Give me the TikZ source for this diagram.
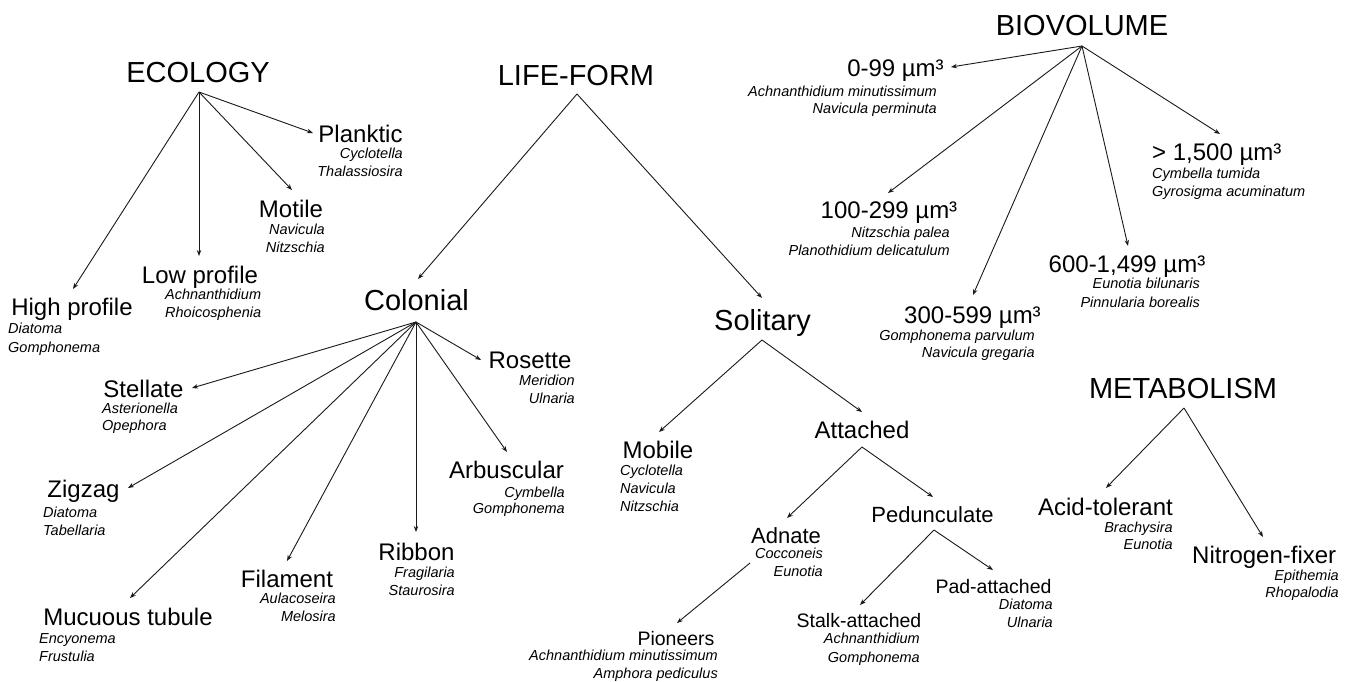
\documentclass[tikz,border=0pt]{standalone}
\usepackage{fontspec}
\setmainfont{Liberation Sans}
\usetikzlibrary{arrows.meta}
\begin{document}
\begin{tikzpicture}[x=1pt,y=-1pt,
  title/.style={font=\fontsize{29}{29}\selectfont, inner sep=0pt, anchor=base},
  big/.style={font=\fontsize{29}{29}\selectfont, inner sep=0pt, anchor=base},
  cat/.style={font=\fontsize{24}{24}\selectfont, inner sep=0pt, anchor=base},
  mid/.style={font=\fontsize{22}{22}\selectfont, inner sep=0pt, anchor=base},
  sml/.style={font=\fontsize{19.5}{19.5}\selectfont, inner sep=0pt, anchor=base},
  spL/.style={font=\fontsize{14.5}{14.5}\selectfont\itshape, inner sep=0pt, anchor=base west},
  spR/.style={font=\fontsize{14.5}{14.5}\selectfont\itshape, inner sep=0pt, anchor=base east},
  arr/.style={-{Stealth[length=6pt,width=4.5pt]}, line width=0.9pt, draw=black!90}
]
\useasboundingbox (0,0) rectangle (1350,681);

% ===== ECOLOGY =====
\node[title] (ecology) at (198,82) {ECOLOGY};
\coordinate (eco-a) at (199,92);
\node[cat] (planktic) at (360.5,142) {Planktic};
\node[spR] (planktic1) at (403,158) {Cyclotella};
\node[spR] (planktic2) at (403,176) {Thalassiosira};
\node[cat] (motile) at (291,217) {Motile};
\node[spR] (motile1) at (325,234) {Navicula};
\node[spR] (motile2) at (325,252) {Nitzschia};
\node[cat] (lowp) at (200,283) {Low profile};
\node[spL] (lowp1) at (165,299) {Achnanthidium};
\node[spL] (lowp2) at (165,317) {Rhoicosphenia};
\node[cat] (highp) at (72,315) {High profile};
\node[spL] (highp1) at (8,333) {Diatoma};
\node[spL] (highp2) at (8,352) {Gomphonema};
\coordinate (planktic-t) at (313,133);
\coordinate (motile-t) at (292,190);
\coordinate (lowp-t) at (199,256);
\coordinate (highp-t) at (73,289);
\draw[arr] (eco-a) -- (planktic-t);
\draw[arr] (eco-a) -- (motile-t);
\draw[arr] (eco-a) -- (lowp-t);
\draw[arr] (eco-a) -- (highp-t);

% ===== LIFE-FORM =====
\node[title] (lifeform) at (576,85) {LIFE-FORM};
\coordinate (lf-a) at (577,94);
\node[big] (colonial) at (416.5,310) {Colonial};
\node[big] (solitary) at (762.5,330) {Solitary};
\coordinate (colonial-t) at (418,279);
\coordinate (solitary-t) at (762,298);
\draw[arr] (lf-a) -- (colonial-t);
\draw[arr] (lf-a) -- (solitary-t);

% Colonial children
\coordinate (col-a) at (416,322);
\node[cat] (stellate) at (143.5,397) {Stellate};
\node[spL] (stellate1) at (102,413) {Asterionella};
\node[spL] (stellate2) at (102,430) {Opephora};
\node[cat] (zigzag) at (83.5,497) {Zigzag};
\node[spL] (zigzag1) at (43,517) {Diatoma};
\node[spL] (zigzag2) at (43,535) {Tabellaria};
\node[cat] (mucuous) at (128,625) {Mucuous tubule};
\node[spL] (mucuous1) at (39,643) {Encyonema};
\node[spL] (mucuous2) at (39,661) {Frustulia};
\node[cat] (filament) at (287,587) {Filament};
\node[spR] (filament1) at (336,603) {Aulacoseira};
\node[spR] (filament2) at (336,621) {Melosira};
\node[cat] (ribbon) at (416.5,560) {Ribbon};
\node[spR] (ribbon1) at (455,577) {Fragilaria};
\node[spR] (ribbon2) at (455,595) {Staurosira};
\node[cat] (arbus) at (506.5,478) {Arbuscular};
\node[spR] (arbus1) at (565,497) {Cymbella};
\node[spR] (arbus2) at (565,513) {Gomphonema};
\node[cat] (rosette) at (530,368) {Rosette};
\node[spR] (rosette1) at (575,385) {Meridion};
\node[spR] (rosette2) at (575,403) {Ulnaria};
\coordinate (stellate-t) at (192,388);
\coordinate (zigzag-t) at (128,488);
\coordinate (mucuous-t) at (130,598);
\coordinate (filament-t) at (287,561);
\coordinate (ribbon-t) at (416,532);
\coordinate (arbus-t) at (507,452);
\coordinate (rosette-t) at (481,360);
\foreach \c in {stellate,zigzag,mucuous,filament,ribbon,arbus,rosette}
  \draw[arr] (col-a) -- (\c-t);

% Solitary children
\coordinate (sol-a) at (762,340);
\node[cat] (mobile) at (658,458) {Mobile};
\node[spL] (mobile1) at (620,475) {Cyclotella};
\node[spL] (mobile2) at (620,493) {Navicula};
\node[spL] (mobile3) at (620,511) {Nitzschia};
\node[cat] (attached) at (862,438) {Attached};
\coordinate (mobile-t) at (659,432);
\coordinate (attached-t) at (862,412);
\draw[arr] (sol-a) -- (mobile-t);
\draw[arr] (sol-a) -- (attached-t);

\coordinate (att-a) at (862,447);
\node[mid] (adnate) at (786,543) {Adnate};
\node[spR] (adnate1) at (823,558) {Cocconeis};
\node[spR] (adnate2) at (823,576) {Eunotia};
\node[mid] (pedun) at (932.5,522) {Pedunculate};
\coordinate (adnate-t) at (787,518);
\coordinate (pedun-t) at (933,497);
\draw[arr] (att-a) -- (adnate-t);
\draw[arr] (att-a) -- (pedun-t);

\coordinate (adn-a) at (750,563);
\node[sml] (pioneers) at (676,645) {Pioneers};
\node[spR] (pioneers1) at (718,660) {Achnanthidium minutissimum};
\node[spR] (pioneers2) at (718,678) {Amphora pediculus};
\coordinate (pioneers-t) at (677,623);
\draw[arr] (adn-a) -- (pioneers-t);

\coordinate (ped-a) at (934,530);
\node[sml] (stalk) at (859,627) {Stalk-attached};
\node[spR] (stalk1) at (920,643) {Achnanthidium};
\node[spR] (stalk2) at (920,662) {Gomphonema};
\node[sml] (pad) at (993.5,593) {Pad-attached};
\node[spR] (pad1) at (1053,609) {Diatoma};
\node[spR] (pad2) at (1053,627) {Ulnaria};
\coordinate (stalk-t) at (860,605);
\coordinate (pad-t) at (993,570);
\draw[arr] (ped-a) -- (stalk-t);
\draw[arr] (ped-a) -- (pad-t);

% ===== BIOVOLUME =====
\node[title] (biovol) at (1082,35) {BIOVOLUME};
\coordinate (bio-a) at (1082,46);
\node[cat] (bv1) at (895.5,76) {0-99 µm³};
\node[spR] (bv1a) at (937,96) {Achnanthidium minutissimum};
\node[spR] (bv1b) at (937,113) {Navicula perminuta};
\node[cat] (bv2) at (889,218) {100-299 µm³};
\node[spR] (bv2a) at (950,237) {Nitzschia palea};
\node[spR] (bv2b) at (950,255) {Planothidium delicatulum};
\node[cat] (bv3) at (972.5,323) {300-599 µm³};
\node[spR] (bv3a) at (1035,340) {Gomphonema parvulum};
\node[spR] (bv3b) at (1035,357) {Navicula gregaria};
\node[cat] (bv4) at (1127,272) {600-1,499 µm³};
\node[spR] (bv4a) at (1200,288) {Eunotia bilunaris};
\node[spR] (bv4b) at (1200,307) {Pinnularia borealis};
\node[cat, anchor=base west] (bv5) at (1152,160) {> 1,500 µm³};
\node[spL] (bv5a) at (1152,178) {Cymbella tumida};
\node[spL] (bv5b) at (1152,196) {Gyrosigma acuminatum};
\coordinate (bv1-t) at (951,67);
\coordinate (bv2-t) at (888,193);
\coordinate (bv3-t) at (973,295);
\coordinate (bv4-t) at (1128,246);
\coordinate (bv5-t) at (1220,134);
\foreach \c in {bv1,bv2,bv3,bv4,bv5}
  \draw[arr] (bio-a) -- (\c-t);

% ===== METABOLISM =====
\node[title] (metab) at (1183,398) {METABOLISM};
\coordinate (met-a) at (1184,408);
\node[cat, anchor=base east] (acid) at (1173,515) {Acid-tolerant};
\node[spR] (acid1) at (1173,532) {Brachysira};
\node[spR] (acid2) at (1173,549) {Eunotia};
\node[cat, anchor=base west] (nitro) at (1192,563) {Nitrogen-fixer};
\node[spR] (nitro1) at (1339,580) {Epithemia};
\node[spR] (nitro2) at (1339,597) {Rhopalodia};
\coordinate (acid-t) at (1106,488);
\coordinate (nitro-t) at (1263,537);
\draw[arr] (met-a) -- (acid-t);
\draw[arr] (met-a) -- (nitro-t);
\end{tikzpicture}
\end{document}
